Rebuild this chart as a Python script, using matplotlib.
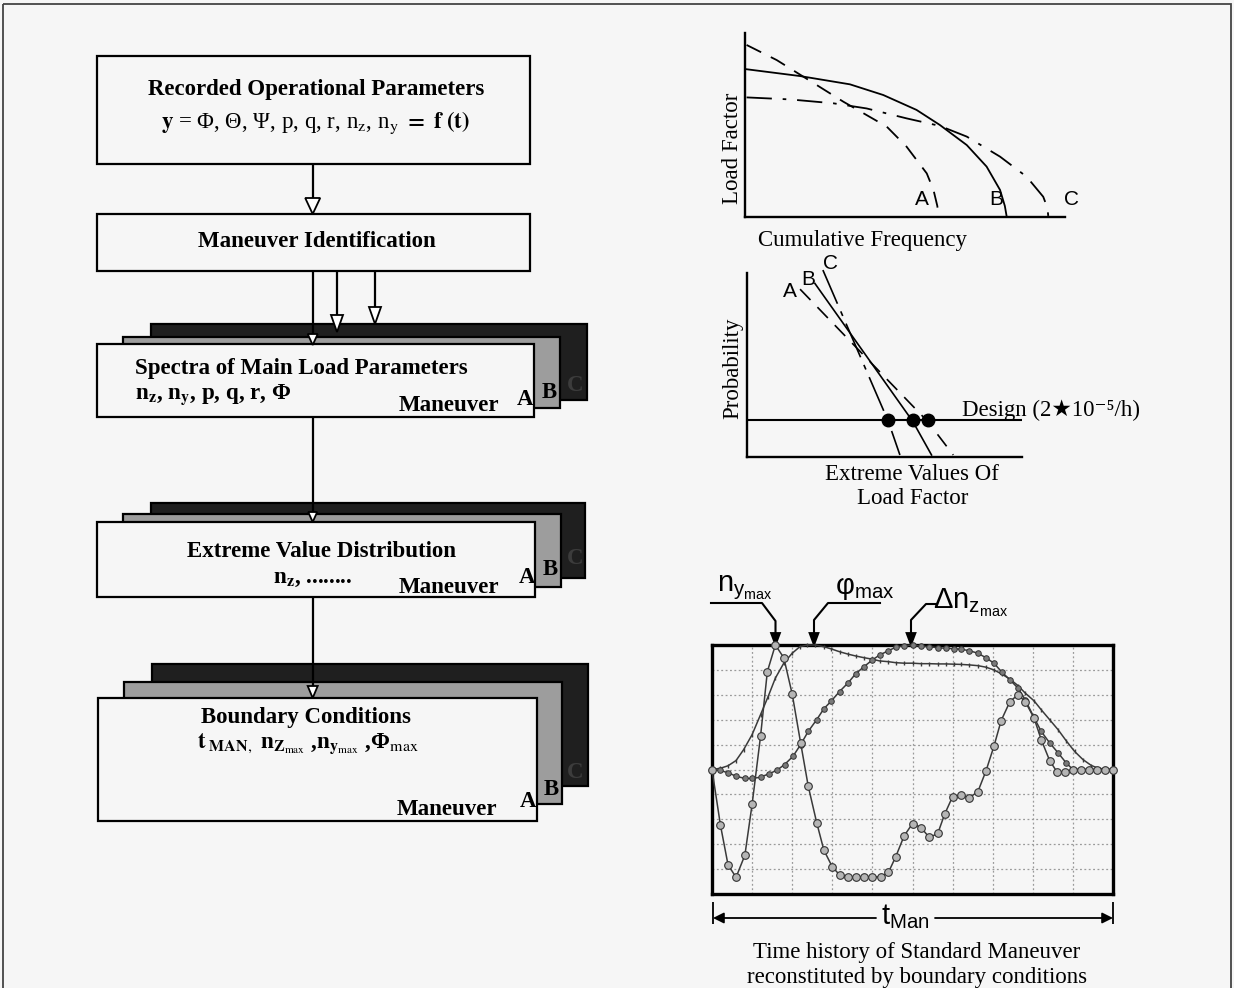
import matplotlib
matplotlib.use('Agg')
import matplotlib.pyplot as plt
from matplotlib.patches import Rectangle, Polygon

plt.rcParams['mathtext.rm'] = 'Liberation Sans'
plt.rcParams['mathtext.it'] = 'Liberation Sans:italic'
plt.rcParams['mathtext.bf'] = 'Liberation Sans:bold'
plt.rcParams['mathtext.sf'] = 'Liberation Sans'

W, H = 1234, 988
BG = '#f6f6f6'
SERIF = 'Liberation Serif'
SANS = 'Liberation Sans'
FS = 16.5

# ---------------- data ----------------
# Panel 1: load factor vs cumulative frequency (sketch units 0-10)
lf_A_freq = [0.05, 0.99, 1.82, 3.07, 4.43, 5.05, 5.68, 5.89, 6.01, 6.05]
lf_A_load = [9.35, 8.53, 7.63, 6.27, 4.91, 3.82, 2.37, 1.47, 0.60, 0.0]
lf_B_freq = [0.05, 1.72, 3.28, 4.32, 5.36, 6.09, 6.93, 7.55, 7.97, 8.12, 8.18]
lf_B_load = [8.03, 7.66, 7.21, 6.63, 5.82, 5.00, 3.91, 2.74, 1.47, 0.60, 0.0]
lf_C_freq = [0.05, 1.41, 2.76, 3.80, 5.05, 6.09, 6.93, 7.97, 8.80, 9.32, 9.45, 9.48]
lf_C_load = [6.50, 6.39, 6.18, 5.90, 5.36, 4.95, 4.37, 3.28, 2.19, 1.10, 0.50, 0.0]
lf_labels = ['A', 'B', 'C']
lf_label_x = [5.53, 7.84, 10.19]

# Panel 2: probability vs extreme values of load factor (sketch units 0-10)
ev_A_x = [1.93, 6.57, 7.50]
ev_A_y = [9.12, 1.93, 0.11]
ev_B_x = [2.47, 6.03, 6.71]
ev_B_y = [9.43, 1.93, 0.11]
ev_C_x = [2.76, 5.14, 5.56]
ev_C_y = [10.16, 1.93, 0.11]
design_level = 2.03
design_pts_x = [5.14, 6.03, 6.57]
ev_labels = ['A', 'B', 'C']
ev_label_x = [1.56, 2.22, 3.05]
ev_label_y = [8.97, 9.67, 10.54]

# Panel 3: time history of standard maneuver (grid units 0-10)
ny_t = [0, 0.21, 0.40, 0.60, 0.82, 1.0, 1.21, 1.38, 1.58, 1.79, 2.0, 2.21, 2.4, 2.61, 2.79,
        3.0, 3.18, 3.4, 3.58, 3.79, 4.0, 4.21, 4.4, 4.58, 4.79, 5.0, 5.21, 5.42, 5.63, 5.8,
        6.0, 6.2, 6.42, 6.63, 6.83, 7.03, 7.21, 7.43, 7.63, 7.81, 8.03, 8.21, 8.42, 8.6, 8.8,
        9.0, 9.2, 9.4, 9.6, 9.8, 10.0]
ny_v = [5.0, 2.77, 1.17, 0.67, 1.56, 3.6, 6.33, 8.93, 10.0, 9.49, 8.03, 6.07, 4.33, 2.87, 1.76,
        1.09, 0.77, 0.67, 0.67, 0.69, 0.69, 0.69, 0.87, 1.49, 2.33, 2.83, 2.67, 2.27, 2.43, 3.2,
        3.91, 3.96, 3.87, 4.11, 4.93, 5.93, 6.96, 7.73, 8.0, 7.73, 7.07, 6.2, 5.36, 4.91, 4.91,
        5.0, 5.0, 5.0, 5.0, 5.0, 5.0]
dnz_t = [0, 0.21, 0.4, 0.6, 0.82, 1.0, 1.21, 1.42, 1.61, 1.81, 2.02, 2.21, 2.4, 2.61, 2.79,
         2.98, 3.18, 3.4, 3.58, 3.79, 4.0, 4.18, 4.4, 4.58, 4.79, 5.0, 5.21, 5.42, 5.63, 5.83,
         6.03, 6.21, 6.42, 6.63, 6.83, 7.03, 7.23, 7.43, 7.63, 7.81, 8.03, 8.21, 8.42, 8.63, 8.83,
         9.0, 9.2, 9.4, 9.6, 9.8, 10.0]
dnz_v = [5.0, 4.96, 4.87, 4.73, 4.64, 4.64, 4.69, 4.83, 4.96, 5.2, 5.53, 6.0, 6.53, 7.0, 7.44,
         7.76, 8.13, 8.49, 8.84, 9.13, 9.4, 9.6, 9.77, 9.91, 9.97, 10.0, 9.95, 9.93, 9.89, 9.87,
         9.85, 9.83, 9.77, 9.67, 9.49, 9.27, 8.91, 8.6, 8.27, 7.8, 7.09, 6.53, 6.07, 5.67, 5.27,
         5.0, 5.0, 5.0, 5.0, 5.0, 5.0]
phi_t = [0, 0.21, 0.4, 0.6, 0.79, 1.0, 1.21, 1.4, 1.58, 1.79, 2.0, 2.19, 2.38, 2.58, 2.79,
         2.98, 3.18, 3.4, 3.58, 3.79, 4.0, 4.18, 4.4, 4.58, 4.79, 5.0, 5.21, 5.42, 5.63, 5.83,
         6.03, 6.21, 6.42, 6.63, 6.83, 7.03, 7.23, 7.43, 7.63, 7.81, 8.03, 8.21, 8.42, 8.63, 8.83,
         9.04, 9.25, 9.46, 9.67, 9.88, 10.0]
phi_v = [5.0, 5.05, 5.15, 5.36, 5.8, 6.4, 7.2, 7.93, 8.67, 9.27, 9.67, 9.93, 10.0, 10.0, 9.93,
         9.84, 9.73, 9.63, 9.56, 9.49, 9.43, 9.36, 9.33, 9.29, 9.27, 9.27, 9.25, 9.25, 9.24, 9.24,
         9.23, 9.22, 9.2, 9.17, 9.11, 9.0, 8.83, 8.63, 8.37, 8.07, 7.76, 7.4, 7.0, 6.6, 6.16,
         5.73, 5.4, 5.16, 5.03, 5.0, 5.0]

# ---------------- figure ----------------
fig = plt.figure(figsize=(W / 100, H / 100), dpi=100, facecolor=BG)
ax = fig.add_axes([0, 0, 1, 1])
ax.set_xlim(0, W)
ax.set_ylim(H, 0)
ax.axis('off')

ax.add_patch(Rectangle((3, 4), 1228, 995, fc='none', ec='#444444', lw=1.3, zorder=1))

LW = 1.6


def box(x0, y0, x1, y1, fc=BG, z=3):
    ax.add_patch(Rectangle((x0, y0), x1 - x0, y1 - y0, fc=fc, ec='black', lw=LW, zorder=z))


def stack(A, B, C):
    box(*C, fc='#1f1f1f', z=2)
    box(*B, fc='#9d9d9d', z=3)
    box(*A, fc=BG, z=4)


def tri(x, tip, h, w, fc='white', z=8):
    ax.add_patch(Polygon([(x - w / 2, tip - h), (x + w / 2, tip - h), (x, tip)],
                         closed=True, fc=fc, ec='black', lw=1.3, zorder=z))


def vline(x, y0, y1, z=7, lw=LW):
    ax.plot([x, x], [y0, y1], color='black', lw=lw, zorder=z, solid_capstyle='butt')


def st(x, y, s, ha='center', size=FS, weight='bold', color='black', **kw):
    ax.text(x, y, s, ha=ha, va='center', fontsize=size, fontweight=weight,
            family=SERIF, color=color, math_fontfamily='stix', zorder=10, **kw)


# Box 1 / Box 2
box(97, 56, 530, 164)
st(316, 89, 'Recorded Operational Parameters')
st(315, 123, r'$\mathbf{y}$ = Φ, Θ, Ψ, p, q, r, n$_\mathrm{z}$, n$_\mathrm{y}$ $\mathbf{=\ f\ (t)}$',
   weight='normal')
vline(312.7, 164, 199)
tri(312.7, 214, 16, 15)
box(97, 214, 530, 271)
st(316.5, 241, 'Maneuver Identification')

# Stack 1
stack((97, 344, 534, 417), (123, 337, 560, 408), (151, 324, 587, 400))
st(135, 368, 'Spectra of Main Load Parameters', ha='left')
st(135, 395, r'n$_\mathbf{z}$, n$_\mathbf{y}$, p, q, r, Φ', ha='left')
st(449, 405, 'Maneuver')
st(525, 399, 'A')
st(549, 392, 'B')
st(575, 385, 'C', color='#3c3c3c')
vline(312.7, 271, 336)
tri(312.7, 345, 11, 10)
vline(337, 271, 316)
tri(337, 332, 17, 12)
vline(375, 271, 308)
tri(375, 324, 17, 12)

# Stack 2
vline(312.7, 417, 513)
stack((97, 522, 535, 597), (123, 514, 561, 587), (151, 503, 585, 578))
st(321.7, 551, 'Extreme Value Distribution')
st(273, 578, r'n$_\mathbf{z}$, ........', ha='left')
st(449, 587, 'Maneuver')
st(527, 577, 'A')
st(550, 569, 'B')
st(575, 558, 'C', color='#3c3c3c')
tri(312.7, 522, 10, 9)

# Stack 3
vline(312.7, 597, 687)
stack((98, 698, 537, 821), (124, 682, 562, 804), (152, 664, 588, 786))
st(305.5, 717, 'Boundary Conditions')
st(308, 744, r'$\mathbf{t}_{\mathbf{\ MAN},}$ n$_{\mathbf{Z}_{\mathrm{max}}}$ ,n$_{\mathbf{y}_{\mathrm{max}}}$ ,Φ$_{\mathrm{max}}$')
st(447, 809, 'Maneuver')
st(528, 801, 'A')
st(551, 789, 'B')
st(575, 772, 'C', color='#3c3c3c')
tri(312.7, 698, 12, 10)


def px_axes(x0, y0, x1, y1):
    return fig.add_axes([x0 / W, 1 - y1 / H, (x1 - x0) / W, (y1 - y0) / H])


def sketch_axes(a):
    a.set_xlim(0, 10)
    a.set_ylim(0, 10)
    a.patch.set_alpha(0)
    for s in ['top', 'right']:
        a.spines[s].set_visible(False)
    for s in ['left', 'bottom']:
        a.spines[s].set_linewidth(1.7)
    a.set_xticks([])
    a.set_yticks([])


# Panel 1
p1 = px_axes(745, 33, 1065, 217)
sketch_axes(p1)
p1.plot(lf_A_freq, lf_A_load, color='black', lw=1.3, ls=(0, (9, 6)), clip_on=False)
p1.plot(lf_B_freq, lf_B_load, color='black', lw=1.3, clip_on=False)
p1.plot(lf_C_freq, lf_C_load, color='black', lw=1.3, ls=(0, (14, 6, 2, 6)), clip_on=False)
for lab, lx in zip(lf_labels, lf_label_x):
    p1.text(lx, 0.93, lab, ha='center', va='center', fontsize=15, family=SANS)
ax.text(733, 148, 'Load Factor', rotation=90, ha='center', va='center', fontsize=FS, family=SERIF)
ax.text(863, 240, 'Cumulative Frequency', ha='center', va='center', fontsize=FS, family=SERIF)

# Panel 2
p2 = px_axes(747, 273, 1022, 457)
sketch_axes(p2)
p2.plot(ev_A_x, ev_A_y, color='black', lw=1.2, ls=(0, (9, 6)), clip_on=False)
p2.plot(ev_B_x, ev_B_y, color='black', lw=1.2, clip_on=False)
p2.plot(ev_C_x, ev_C_y, color='black', lw=1.2, ls=(0, (22, 5, 3, 5)), clip_on=False)
p2.axhline(design_level, color='black', lw=1.5)
p2.plot(design_pts_x, [design_level] * len(design_pts_x), 'o', color='black', ms=9, clip_on=False)
for lab, lx, ly in zip(ev_labels, ev_label_x, ev_label_y):
    p2.text(lx, ly, lab, ha='center', va='center', fontsize=15, family=SANS, clip_on=False)
ax.text(733, 368, 'Probability', rotation=90, ha='center', va='center', fontsize=FS, family=SERIF)
ax.text(962, 410, 'Design (2★10⁻⁵/h)', ha='left', va='center', fontsize=FS,
        family=[SERIF, 'DejaVu Sans'])
ax.text(912, 474, 'Extreme Values Of', ha='center', va='center', fontsize=FS, family=SERIF)
ax.text(913, 498, 'Load Factor', ha='center', va='center', fontsize=FS, family=SERIF)

# Panel 3
p3 = px_axes(712, 645, 1113, 894)
p3.set_xlim(0, 10)
p3.set_ylim(0, 10)
p3.patch.set_alpha(0)
for s in p3.spines.values():
    s.set_linewidth(2.4)
p3.set_xticks(range(1, 10))
p3.set_yticks(range(1, 10))
p3.tick_params(length=0, labelbottom=False, labelleft=False)
p3.grid(True, color='#9a9a9a', lw=0.9, ls=(0, (1.5, 2)))
lc = '#3a3a3a'
p3.plot(phi_t, phi_v, color=lc, lw=1.1, marker='|', ms=3.5, mew=1.0, clip_on=False, zorder=3)
p3.plot(dnz_t, dnz_v, color=lc, lw=1.1, marker='o', ms=4.0, mfc='#7a7a7a', mec='#333333',
        mew=0.7, clip_on=False, zorder=4)
p3.plot(ny_t, ny_v, color=lc, lw=1.1, marker='o', ms=5.5, mfc='#b5b5b5', mec='#333333',
        mew=0.8, clip_on=False, zorder=5)

# leaders above panel 3
def leader(xs, ys, tipx):
    ax.plot(xs, ys, color='black', lw=1.5, zorder=7)
    tri(tipx, 645, 12, 9, fc='black')

leader([711, 762, 775.5, 775.5], [603, 603, 621, 634], 775.5)
leader([880, 828, 814, 814], [603, 603, 620, 634], 814)
leader([937, 926, 911, 911], [604, 604, 620, 634], 911)
ax.text(717, 588, r'$\mathrm{n}_{\mathrm{y}_{\mathrm{max}}}$', ha='left', va='center', fontsize=21,
        math_fontfamily='custom')
ax.text(835, 588, r'$\mathrm{φ}_{\mathrm{max}}$', ha='left', va='center', fontsize=21,
        math_fontfamily='custom')
ax.text(933, 603, r'$\Delta\mathrm{n}_{\mathrm{z}_{\mathrm{max}}}$', ha='left', va='center',
        fontsize=21, math_fontfamily='custom')

# t_Man arrow
ax.annotate('', xy=(713, 918), xytext=(876, 918),
            arrowprops=dict(arrowstyle='-|>', color='black', lw=1.3, mutation_scale=16,
                            shrinkA=0, shrinkB=0))
ax.annotate('', xy=(1113, 918), xytext=(935, 918),
            arrowprops=dict(arrowstyle='-|>', color='black', lw=1.3, mutation_scale=16,
                            shrinkA=0, shrinkB=0))
vline(713, 902, 924, lw=1.3)
vline(1113, 902, 924, lw=1.3)
ax.text(905, 917, r'$\mathrm{t}_{\mathrm{Man}}$', ha='center', va='center', fontsize=21,
        math_fontfamily='custom')
ax.text(917, 952, 'Time history of Standard Maneuver', ha='center', va='center', fontsize=FS,
        family=SERIF)
ax.text(917, 977, 'reconstituted by boundary conditions', ha='center', va='center',
        fontsize=FS, family=SERIF)

fig.savefig('out.png', dpi=100, facecolor=BG)
